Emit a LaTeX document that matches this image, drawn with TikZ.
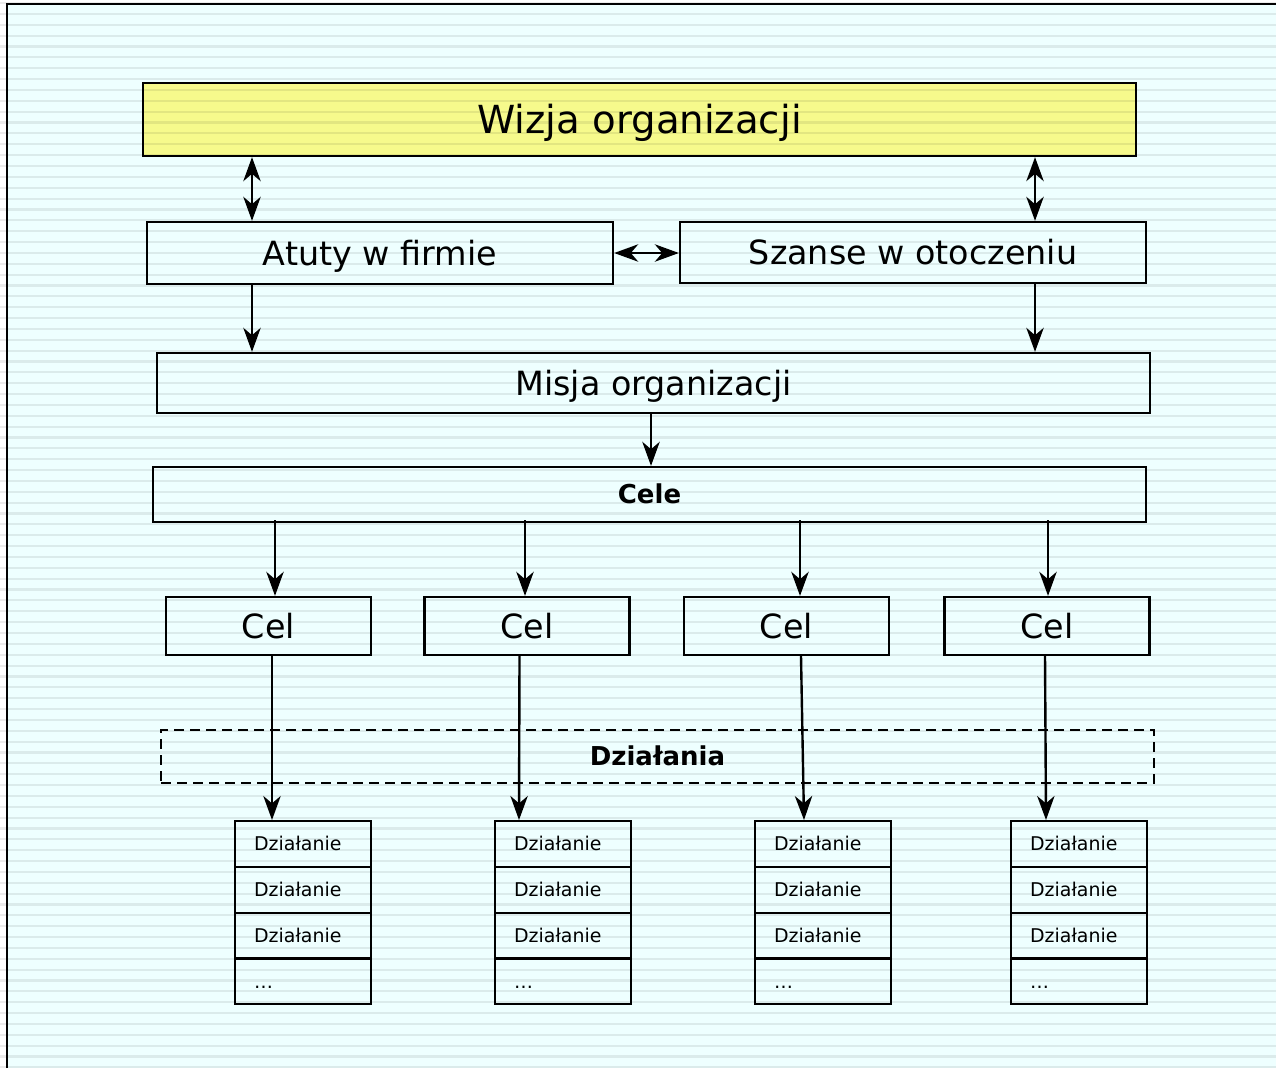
\documentclass[tikz,border=0pt]{standalone}
\usepackage{fontspec}
\setmainfont{DejaVu Sans}
\usetikzlibrary{arrows.meta,calc}
\def\px{0.75pt}
\definecolor{paper}{RGB}{238,255,255}
\definecolor{vision}{RGB}{246,250,140}
\tikzset{
  box/.style={draw=black, line width=1.7pt, rectangle, inner sep=0pt, text depth=0pt},
  hugetext/.style={font=\fontsize{29}{34}\selectfont, text height=21.2pt},
  bigtext/.style={font=\fontsize{25}{30}\selectfont, text height=18.2pt},
  boldtext/.style={font=\fontsize{19.5}{24}\selectfont\bfseries, text height=14.2pt},
  cell/.style={draw=black, line width=1.7pt, rectangle, anchor=north west,
               text width={98*\px}, inner xsep={19*\px}, inner ysep=0pt,
               minimum height={45.75*\px}, align=left,
               text height=10.4pt, text depth=0pt,
               font=\fontsize{14.2}{17}\selectfont},
  tip/.tip={Stealth[length=18pt,width=13pt,inset=5.5pt]},
  arr/.style={line width=1.8pt, -tip},
  dblarr/.style={line width=1.8pt, tip-tip},
  stripe/.style={line width=1.6pt, black, opacity=0.08}
}
\begin{document}
\begin{tikzpicture}[x=\px, y=-\px]
\useasboundingbox (0,0) rectangle (1276,1068);
% page background
\fill[white] (0,0) rectangle (1276,1068);
\fill[paper] (7,4) rectangle (1276,1068);

% top level
\node[box, hugetext, fill=vision, minimum width={993*\px}, minimum height={73*\px}] (wizja) at (639.5,119.5) {Wizja organizacji};
\node[box, bigtext, minimum width={466*\px}, minimum height={62*\px}] (atuty) at (380,253) {Atuty w firmie};
\node[box, bigtext, minimum width={466*\px}, minimum height={61*\px}] (szanse) at (913,252.5) {Szanse w otoczeniu};
\node[box, bigtext, minimum width={993*\px}, minimum height={60*\px}] (misja) at (653.5,383) {Misja organizacji};
\node[box, boldtext, minimum width={993*\px}, minimum height={55*\px}] (cele) at (649.5,494.5) {Cele};

% single goals
\foreach \n/\x in {1/268.5, 2/527, 3/786.5, 4/1047}
  \node[box, bigtext, minimum width={205*\px}, minimum height={58*\px}] (cel\n) at (\x,626) {Cel};

% actions band
\node[box, boldtext, dashed, dash pattern=on 7.5pt off 4.5pt, line width=1.2pt,
      minimum width={993*\px}, minimum height={53*\px}] (dzialania) at (657.5,756.5) {Działania};

% action lists
\foreach \n/\x in {1/234, 2/494, 3/754, 4/1010} {
  \node[cell] (d\n a) at (\x,820) {Działanie};
  \node[cell] (d\n b) at (\x,865.75) {Działanie};
  \node[cell] (d\n c) at (\x,911.5) {Działanie};
  \node[cell] (d\n d) at (\x,957.25) {…};
}

% connector columns
\coordinate (vl) at (252,0);
\coordinate (vr) at (1035,0);
\coordinate (vm) at (651,0);
\foreach \n/\x in {1/275, 2/525, 3/800, 4/1048}
  \coordinate (g\n) at (\x,0);

% connectors
\draw[dblarr] (wizja.south -| vl) -- (atuty.north -| vl);
\draw[dblarr] (wizja.south -| vr) -- (szanse.north -| vr);
\draw[dblarr] (atuty.east) -- (szanse.west |- atuty.east);
\draw[arr] (atuty.south -| vl) -- (misja.north -| vl);
\draw[arr] (szanse.south -| vr) -- (misja.north -| vr);
\draw[arr] (misja.south -| vm) -- (cele.north -| vm);

\foreach \n in {1,2,3,4}
  \draw[arr] ($(cele.south -| g\n)+(0,-3)$) -- (cel\n.north -| g\n);

\draw[arr] ($(cel1.south)+(3.5,0)$) -- ($(d1a.north west)+(38,0)$);
\draw[arr] ($(cel2.south)+(-7.5,0)$) -- ($(d2a.north west)+(25,0)$);
\draw[arr] ($(cel3.south)+(14.5,0)$) -- ($(d3a.north west)+(50,0)$);
\draw[arr] ($(cel4.south)+(-2,0)$) -- ($(d4a.north west)+(36,0)$);

% frame lines
\draw[line width=1.8pt] (7,1068) -- (7,4) -- (1276,4);

% ruled paper
\foreach \k in {0,...,98}
  \draw[stripe] (0,{3.1+\k*10.86}) -- (1276,{3.1+\k*10.86});
\end{tikzpicture}
\end{document}
